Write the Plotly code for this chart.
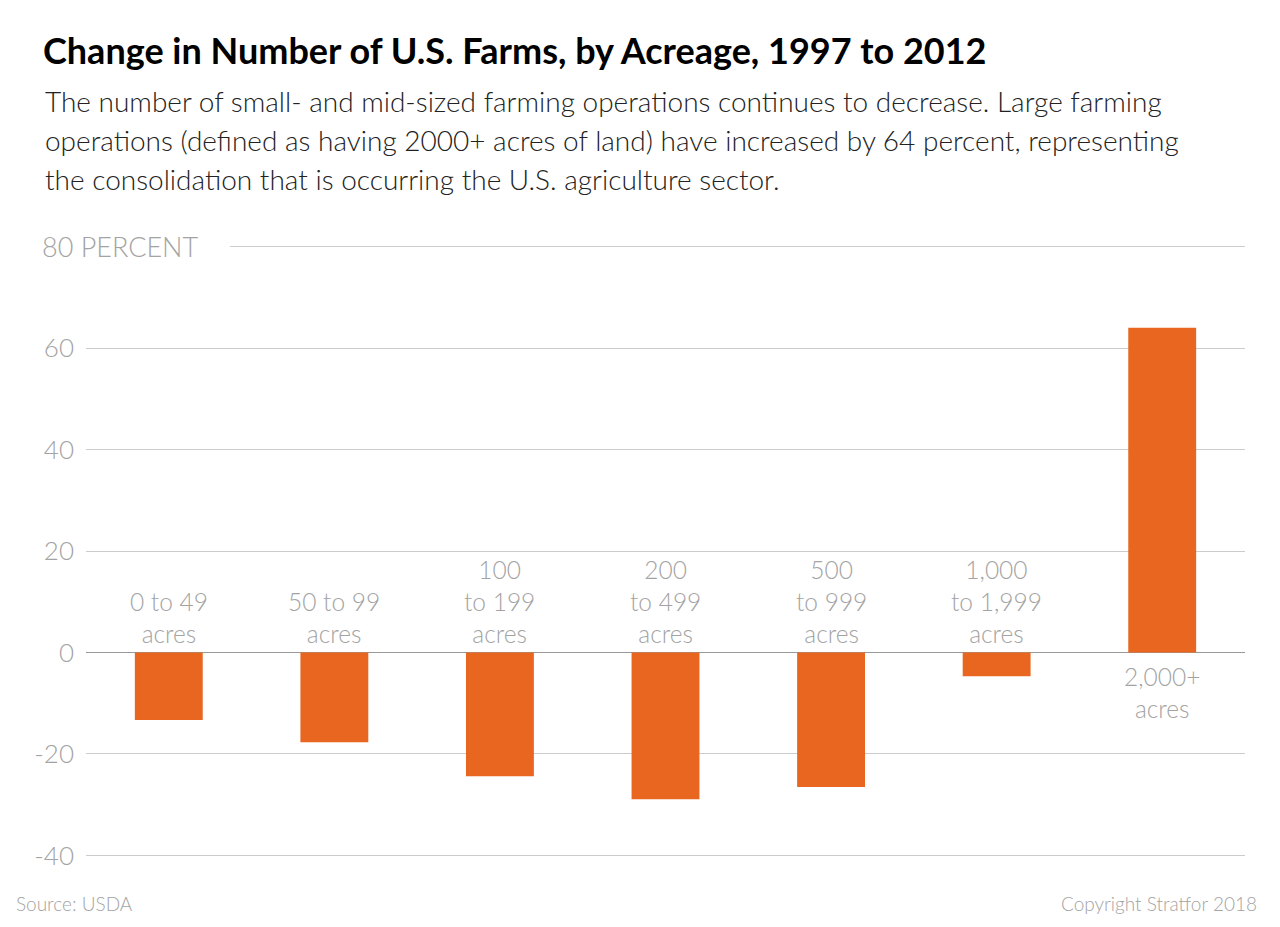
import plotly.graph_objects as go

categories = ["0 to 49 acres", "50 to 99 acres", "100 to 199 acres", "200 to 499 acres",
              "500 to 999 acres", "1,000 to 1,999 acres", "2,000+ acres"]
cat_labels = ["0 to 49<br>acres", "50 to 99<br>acres", "100<br>to 199<br>acres", "200<br>to 499<br>acres",
              "500<br>to 999<br>acres", "1,000<br>to 1,999<br>acres", "2,000+<br>acres"]
values = [-13.3, -17.7, -24.4, -28.9, -26.5, -4.7, 64.0]
tick_vals = [-40, -20, 0, 20, 40, 60]
tick_text = ["-40", "-20", "0", "20", "40", "60"]

W, H = 1280, 927
L, R, T, B = 86, 35, 245, 70
PH = H - T - B

def py(ypx):
    return (H - B - ypx) / PH

def px(xpx):
    return (xpx - L) / (W - L - R)

ORANGE = "#E8661F"
GRAY = "#a3a3a3"
FONT = "Lato"

fig = go.Figure(go.Bar(
    x=categories, y=values, marker=dict(color=ORANGE, line=dict(width=0)),
    width=0.41, hoverinfo="skip"))

annotations = []
for c, lab, v in zip(categories, cat_labels, values):
    if v < 0:
        annotations.append(dict(x=c, y=0, xref="x", yref="y", text=lab, showarrow=False,
                                yanchor="bottom", yshift=2,
                                font=dict(family=FONT, size=24.5, color=GRAY, weight=300)))
    else:
        annotations.append(dict(x=c, y=0, xref="x", yref="y", text=lab, showarrow=False,
                                yanchor="top", yshift=-8,
                                font=dict(family=FONT, size=24.5, color=GRAY, weight=300)))

sub_lines = [
    "The number of small- and mid-sized farming operations continues to decrease. Large farming",
    "operations (defined as having 2000+ acres of land) have increased by 64 percent, representing",
    "the consolidation that is occurring the U.S. agriculture sector.",
]
for i, s in enumerate(sub_lines):
    annotations.append(dict(x=px(43), y=py(101 + 39 * i), xref="paper", yref="paper", text=s,
                            showarrow=False, xanchor="left", yanchor="middle",
                            font=dict(family=FONT, size=28, color="#222222", weight=300)))

annotations.append(dict(x=px(201), y=80, xref="paper", yref="y", text="80 PERCENT", showarrow=False,
                        xanchor="right", yanchor="middle",
                        font=dict(family=FONT, size=27, color=GRAY, weight=300)))
annotations.append(dict(x=px(14), y=py(903), xref="paper", yref="paper", text="Source: USDA",
                        showarrow=False, xanchor="left", yanchor="middle",
                        font=dict(family=FONT, size=19, color=GRAY, weight=300)))
annotations.append(dict(x=px(1259), y=py(903), xref="paper", yref="paper", text="Copyright Stratfor 2018",
                        showarrow=False, xanchor="right", yanchor="middle",
                        font=dict(family=FONT, size=19, color=GRAY, weight=300)))

shapes = [dict(type="line", xref="paper", yref="y", x0=px(230), x1=1, y0=80, y1=80,
               line=dict(color="#cccccc", width=1.2))]

fig.update_layout(
    width=W, height=H,
    margin=dict(l=L, r=R, t=T, b=B),
    paper_bgcolor="white", plot_bgcolor="white",
    showlegend=False,
    title=dict(text="<b>Change in Number of U.S. Farms, by Acreage, 1997 to 2012</b>",
               x=43 / W, xanchor="left", y=1 - 39 / H, yanchor="top",
               font=dict(family=FONT, size=36, color="#000000")),
    xaxis=dict(showticklabels=False, showgrid=False, zeroline=False, showline=False, fixedrange=True),
    yaxis=dict(range=[-40.3, 80.3], tickvals=tick_vals, ticktext=tick_text, showgrid=True,
               gridcolor="#cccccc", gridwidth=1.2, zeroline=True, zerolinecolor="#999999",
               zerolinewidth=1.2, showline=False, ticks="", ticklabelstandoff=11,
               tickfont=dict(family=FONT, size=26, color=GRAY, weight=300), fixedrange=True),
    annotations=annotations,
    shapes=shapes,
    bargap=0.59,
)

fig.write_html("out.html", config={"displayModeBar": False})
